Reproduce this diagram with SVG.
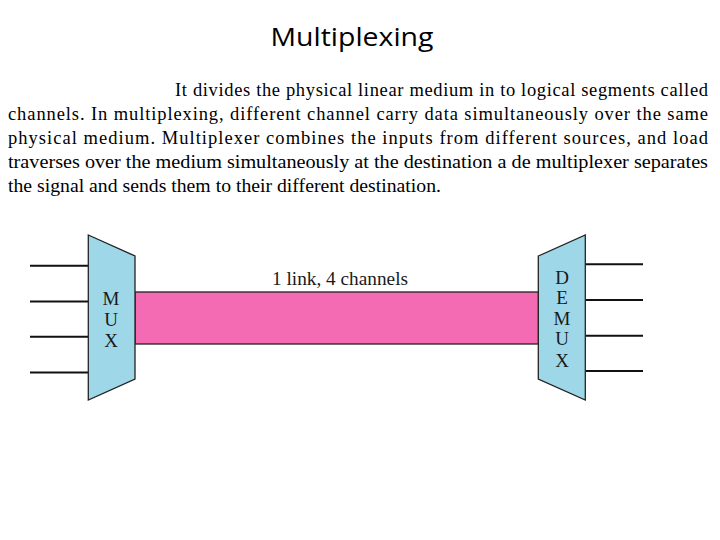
<svg xmlns="http://www.w3.org/2000/svg" width="720" height="540" viewBox="0 0 720 540">
<style>
.title{font-family:"Open Sans","Liberation Sans",sans-serif;font-size:26px;fill:#000}
.body{font-family:"Liberation Serif","Times New Roman",serif;font-size:18.5px;fill:#000}
.lbl{font-family:"Liberation Serif","DejaVu Serif",serif;font-size:19px;fill:#1a1a1a;text-anchor:middle}
.box{fill:#9ED8E8;stroke:#222;stroke-width:1.3}
.wire{stroke:#111;stroke-width:2;fill:none}
.link{fill:#F46BB4;stroke:#222;stroke-width:1.3}
</style>
<rect width="720" height="540" fill="#fff"/>
<text class="title" x="352" y="46" text-anchor="middle" textLength="163" lengthAdjust="spacingAndGlyphs">Multiplexing</text>
<g id="paragraph">
<text class="body" x="175" y="96" textLength="533" lengthAdjust="spacing">It divides the physical linear medium in to logical segments called</text>
<text class="body" x="8" y="120" textLength="700" lengthAdjust="spacing">channels. In multiplexing, different channel carry data simultaneously over the same</text>
<text class="body" x="8" y="144" textLength="700" lengthAdjust="spacing">physical medium. Multiplexer combines the inputs from different sources, and load</text>
<text class="body" x="8" y="168" textLength="700" lengthAdjust="spacingAndGlyphs">traverses over the medium simultaneously at the destination a de multiplexer separates</text>
<text class="body" x="8" y="192" textLength="433" lengthAdjust="spacingAndGlyphs">the signal and sends them to their different destination.</text>
</g>
<g id="connectors">
<line class="wire" x1="30" y1="265.7" x2="88" y2="265.7"/>
<line class="wire" x1="30" y1="301.5" x2="88" y2="301.5"/>
<line class="wire" x1="30" y1="336.7" x2="88" y2="336.7"/>
<line class="wire" x1="30" y1="372.5" x2="88" y2="372.5"/>
<line class="wire" x1="586" y1="264.3" x2="643" y2="264.3"/>
<line class="wire" x1="586" y1="300" x2="643" y2="300"/>
<line class="wire" x1="586" y1="335.7" x2="643" y2="335.7"/>
<line class="wire" x1="586" y1="371" x2="643" y2="371"/>
</g>
<g id="link">
<rect class="link" x="135" y="292" width="403.5" height="52"/>
<text class="lbl" x="340" y="285" textLength="136" lengthAdjust="spacingAndGlyphs">1 link, 4 channels</text>
</g>
<g id="mux">
<polygon class="box" points="88.3,235 135,256 135,379 88.3,400"/>
<text class="lbl" x="111" y="305">M</text>
<text class="lbl" x="111" y="326">U</text>
<text class="lbl" x="111" y="347">X</text>
</g>
<g id="demux">
<polygon class="box" points="538.3,256 585.3,235 585.3,400 538.3,379"/>
<text class="lbl" x="562" y="284">D</text>
<text class="lbl" x="562" y="304">E</text>
<text class="lbl" x="562" y="325">M</text>
<text class="lbl" x="562" y="345">U</text>
<text class="lbl" x="562" y="367">X</text>
</g>
</svg>
